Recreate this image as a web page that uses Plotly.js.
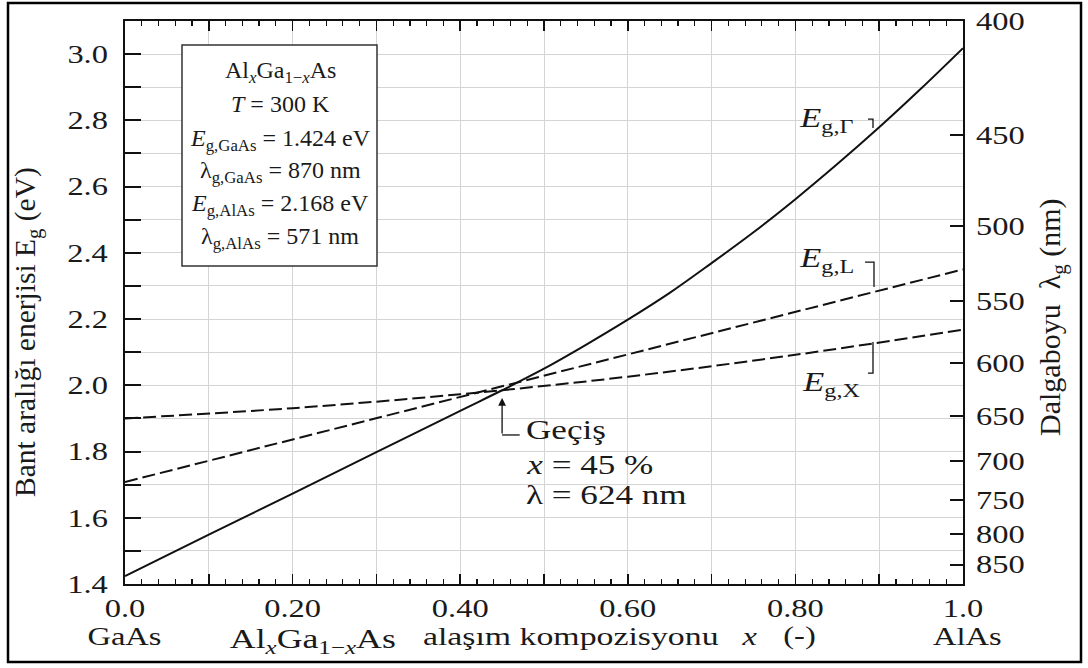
<!DOCTYPE html>
<html>
<head>
<meta charset="utf-8">
<script src="https://cdn.plot.ly/plotly-3.0.1.min.js"></script>
<style>html,body{margin:0;padding:0;background:#fff;}#chart{width:1088px;height:668px;}</style>
</head>
<body>
<div id="chart"></div>
<script>
// Composition x (AlAs fraction) and band-gap values (eV)
const xGamma = [0, 0.1, 0.2, 0.3, 0.4, 0.45, 0.5, 0.55, 0.6, 0.65, 0.7, 0.75, 0.8, 0.85, 0.9, 0.95, 1.0];
const eGamma = [1.424, 1.549, 1.673, 1.798, 1.923, 1.985, 2.050, 2.122, 2.198, 2.279, 2.369, 2.462, 2.562, 2.668, 2.779, 2.896, 3.018];
const xL = [0, 0.5, 1.0];
const eL = [1.708, 2.029, 2.350];
const xX = [0, 0.2, 0.4, 0.6, 0.8, 1.0];
const eX = [1.900, 1.931, 1.973, 2.026, 2.092, 2.168];

// Axis ticks
const xTickVals = [0, 0.1, 0.2, 0.3, 0.4, 0.5, 0.6, 0.7, 0.8, 0.9, 1.0];
const xTickText = ['0.0', '', '0.20', '', '0.40', '', '0.60', '', '0.80', '', '1.0'];
const eTickVals = [1.4, 1.5, 1.6, 1.7, 1.8, 1.9, 2.0, 2.1, 2.2, 2.3, 2.4, 2.5, 2.6, 2.7, 2.8, 2.9, 3.0];
const eTickText = ['1.4', '', '1.6', '', '1.8', '', '2.0', '', '2.2', '', '2.4', '', '2.6', '', '2.8', '', '3.0'];
const wavelengths = [400, 450, 500, 550, 600, 650, 700, 750, 800, 850];
const HC = 1239.84; // eV·nm, converts wavelength tick labels to energy positions

const FONT = 'Liberation Serif, Times New Roman, serif';
const TXT = '#1a1a1a';
const STRETCH = 1.3; // the reference's lettering is horizontally widened

const traces = [
  {x: xGamma, y: eGamma, mode: 'lines', line: {color: '#111', width: 2, shape: 'spline'}, showlegend: false, hoverinfo: 'skip'},
  {x: xL, y: eL, mode: 'lines', line: {color: '#111', width: 2, dash: '13px,5px'}, showlegend: false, hoverinfo: 'skip'},
  {x: xX, y: eX, mode: 'lines', line: {color: '#111', width: 2, dash: '13px,5px', shape: 'spline'}, showlegend: false, hoverinfo: 'skip'},
  {x: xGamma, y: eGamma, yaxis: 'y2', mode: 'lines', line: {width: 0}, opacity: 0, showlegend: false, hoverinfo: 'skip'}
];

const W = 1088, H = 668, ML = 125, MR = 125, MT = 21, MB = 84;
const PW = W - ML - MR, PH = H - MT - MB;
const px = v => (v - ML) / PW;          // pixel x -> paper x
const py = v => (H - MB - v) / PH;      // pixel y -> paper y

const annotations = [];
const stretchModes = [];
function add(a, mode) { annotations.push(a); stretchModes.push(mode || null); }
function ann(text, x, y, size, opts) {
  return Object.assign({text: text, x: x, y: y, xref: 'paper', yref: 'paper', showarrow: false,
    xanchor: 'center', yanchor: 'middle', borderpad: 0, font: {family: FONT, size: size, color: TXT}}, opts || {});
}
function dataAnn(text, x, y, size) {
  return {text: text, x: x, y: y, xref: 'x', yref: 'y', showarrow: false, xanchor: 'left', yanchor: 'middle',
    borderpad: 0, font: {family: FONT, size: size, color: TXT}};
}

const boxLines = [
  ['Al<sub><i>x</i></sub>Ga<sub>1\u2212<i>x</i></sub>As', 72],
  ['<i>T</i> = 300 K', 104],
  ['<i>E</i><sub>g,GaAs</sub> = 1.424 eV', 140],
  ['\u03bb<sub>g,GaAs</sub> = 870 nm', 172],
  ['<i>E</i><sub>g,AlAs</sub> = 2.168 eV', 205],
  ['\u03bb<sub>g,AlAs</sub> = 571 nm', 238]
];
boxLines.forEach(l => add(ann(l[0], px(280), py(l[1]), 24)));

// axis titles
add(ann('Bant aralığı enerjisi E<sub>g</sub> (eV)', px(27), py(332), 29.5, {textangle: -90}));
add(ann('Dalgaboyu&nbsp;&nbsp;\u03bb<sub>g</sub> (nm)', px(1052), py(317), 30, {textangle: -90}));

// bottom row
add(ann('GaAs', px(124), py(636), 25), 'center');
add(ann('AlAs', px(967), py(636), 25), 'center');
add(ann('Al<sub><i>x</i></sub>Ga<sub>1\u2212<i>x</i></sub>As', px(313), py(640), 27.5), 'center');
add(ann('alaşım kompozisyonu', px(570), py(636), 26), 'center');
add(ann('<i>x</i>', px(749), py(636), 25), 'center');
add(ann('(-)', px(799), py(636), 25), 'center');

// curve labels (data coordinates)
add(dataAnn('<i>E</i><sub>g,\u0393</sub>', 0.8035, 2.801, 26.5), 'left');
add(dataAnn('<i>E</i><sub>g,L</sub>', 0.8035, 2.378, 26.5), 'left');
add(dataAnn('<i>E</i><sub>g,X</sub>', 0.807, 2.004, 26.5), 'left');

// crossover arrow and text
add({text: '', x: 0.45, y: 1.962, xref: 'x', yref: 'y', showarrow: true, ax: 0, ay: 37, arrowhead: 2, arrowsize: 1.2, arrowwidth: 1.3, arrowcolor: '#111', standoff: 0, startstandoff: 0});
add(dataAnn('Geçiş', 0.4773, 1.865, 27), 'left');
add(dataAnn('<i>x</i> = 45 %', 0.4773, 1.760, 27), 'left');
add(dataAnn('\u03bb = 624 nm', 0.4773, 1.668, 27), 'left');

const shapes = [
  // info box
  {type: 'rect', xref: 'paper', yref: 'paper', x0: px(182), x1: px(377), y0: py(266), y1: py(45), line: {color: '#333', width: 1.5}, fillcolor: '#fff'},
  // label brackets
  {type: 'path', xref: 'x', yref: 'y', path: 'M 0.8866 2.804 L 0.8926 2.804 L 0.8926 2.777', line: {color: '#111', width: 1.3}},
  {type: 'path', xref: 'x', yref: 'y', path: 'M 0.8831 2.372 L 0.8938 2.372 L 0.8938 2.297', line: {color: '#111', width: 1.3}},
  {type: 'path', xref: 'x', yref: 'y', path: 'M 0.8926 2.131 L 0.8926 2.037 L 0.8866 2.037', line: {color: '#111', width: 1.3}},
  // crossover leader
  {type: 'line', xref: 'x', yref: 'y', x0: 0.45, x1: 0.471, y0: 1.850, y1: 1.850, line: {color: '#111', width: 1.3}},
  // outer frame
  {type: 'rect', xref: 'paper', yref: 'paper', x0: px(8), x1: px(1081), y0: py(662), y1: py(3), line: {color: '#000', width: 2.5}}
];

const tickFont = {family: FONT, size: 25, color: TXT};
const layout = {
  width: W, height: H,
  margin: {l: ML, r: MR, t: MT, b: MB},
  paper_bgcolor: '#fff', plot_bgcolor: '#fff',
  showlegend: false,
  xaxis: {
    range: [0, 1], tickmode: 'array', tickvals: xTickVals, ticktext: xTickText,
    ticks: 'inside', ticklen: 10, tickwidth: 1.5, tickcolor: '#111',
    showline: true, linewidth: 2, linecolor: '#111', mirror: 'ticks',
    showgrid: true, gridcolor: '#d4d4d4', gridwidth: 1, zeroline: false,
    minor: {ticks: 'inside', dtick: 0.02, ticklen: 5, tickwidth: 1.2, tickcolor: '#111', showgrid: false},
    tickfont: tickFont, ticklabelstandoff: 1
  },
  yaxis: {
    range: [1.4, 3.1], tickmode: 'array', tickvals: eTickVals, ticktext: eTickText,
    ticks: 'inside', ticklen: 16, tickwidth: 2, tickcolor: '#111',
    showline: true, linewidth: 2, linecolor: '#111',
    showgrid: true, gridcolor: '#d4d4d4', gridwidth: 1, zeroline: false,
    tickfont: tickFont, ticklabelstandoff: 10
  },
  yaxis2: {
    overlaying: 'y', side: 'right', range: [1.4, 3.1], tickmode: 'array',
    tickvals: wavelengths.map(w => HC / w), ticktext: wavelengths.map(String),
    ticks: 'inside', ticklen: 13, tickwidth: 2, tickcolor: '#111',
    showline: true, linewidth: 2, linecolor: '#111',
    showgrid: false, zeroline: false, tickfont: tickFont, ticklabelstandoff: 6
  },
  annotations: annotations,
  shapes: shapes
};

function widen(el, mode) {
  const bb = el.getBBox();
  if (!bb.width) return;
  const ox = mode === 'left' ? bb.x : (mode === 'right' ? bb.x + bb.width : bb.x + bb.width / 2);
  const old = el.getAttribute('transform') || '';
  el.setAttribute('transform', old + ' translate(' + ox + ',0) scale(' + STRETCH + ',1) translate(' + (-ox) + ',0)');
}

Plotly.newPlot('chart', traces, layout, {staticPlot: true, displayModeBar: false}).then(gd => {
  gd.querySelectorAll('.xtick text').forEach(t => widen(t, 'center'));
  gd.querySelectorAll('.ytick text').forEach(t => widen(t, 'right'));
  gd.querySelectorAll('.y2tick text').forEach(t => widen(t, 'left'));
  gd.querySelectorAll('g.annotation').forEach(g => {
    const mode = stretchModes[+g.getAttribute('data-index')];
    if (!mode) return;
    const t = g.querySelector('text.annotation-text');
    if (t) widen(t, mode);
  });
});
</script>
</body>
</html>
